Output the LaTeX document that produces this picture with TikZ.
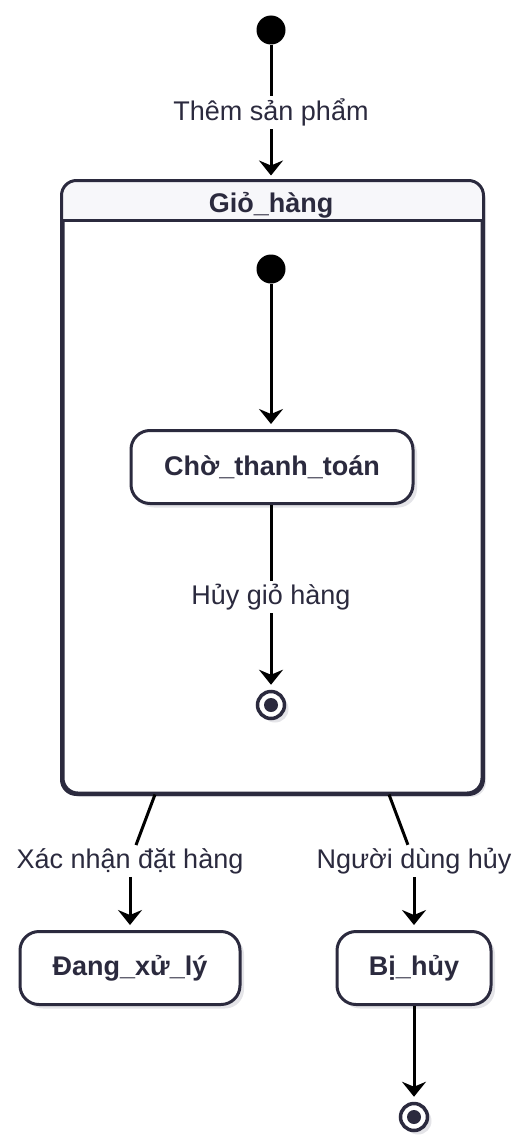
\documentclass[tikz,border=0pt]{standalone}
\usepackage{fontspec}
\setmainfont{Liberation Sans}
\usetikzlibrary{arrows.meta,shadows,calc}
\definecolor{ink}{HTML}{2B2A3E}
\definecolor{hdr}{HTML}{F7F7FA}
\definecolor{shd}{HTML}{E4E4E8}
\begin{document}
\begin{tikzpicture}[x=1pt,y=-1pt,
  shdw/.style={drop shadow={shadow xshift=4pt,shadow yshift=-4pt,fill=shd,opacity=1}},
  statebox/.style={draw=ink,line width=3pt,rounded corners=19pt,fill=white,
    text=ink,font=\fontsize{27}{32}\selectfont\bfseries,inner sep=0pt,
    minimum height=73pt,shdw},
  initst/.style={circle,fill=black,minimum size=29pt,inner sep=0pt},
  finalst/.style={circle,draw=ink,line width=3.5pt,fill=white,minimum size=27pt,inner sep=0pt,shdw,
    path picture={\fill[ink] (path picture bounding box.center) circle (7pt);}},
  lbl/.style={fill=white,text=ink,font=\fontsize{27}{32}\selectfont,inner sep=3pt},
  conn/.style={line width=3pt,black},
  edge/.style={conn,-{Stealth[length=15pt,width=24pt,inset=5pt]},shorten >=5pt}]
\useasboundingbox (0,0) rectangle (529,1148);

% composite state
\node[draw=ink,line width=3pt,rounded corners=15pt,fill=white,minimum width=419pt,
  minimum height=611pt,inner sep=0pt,shdw] (comp) at (272.5,487.5) {};
\begin{scope}
  \clip[rounded corners=15pt] (comp.north west) rectangle (comp.south east);
  \fill[hdr] (comp.north west) rectangle ([yshift=-40pt]comp.north east);
\end{scope}
\draw[ink,line width=3pt] ([yshift=-40pt]comp.north west) -- ([yshift=-40pt]comp.north east);
\draw[ink,line width=3pt,rounded corners=15pt] (comp.north west) rectangle (comp.south east);
\node[text=ink,font=\fontsize{27}{32}\selectfont\bfseries] (title) at (271,205) {Giỏ\_hàng};

% nodes
\node[initst] (init) at (271,30) {};
\node[initst] (init2) at (271,269) {};
\node[statebox,minimum width=282pt] (cho) at (272,467) {Chờ\_thanh\_toán};
\node[finalst] (fin1) at (271,705) {};
\node[statebox,minimum width=220pt] (dang) at (130,968) {Đang\_xử\_lý};
\node[statebox,minimum width=154pt] (bi) at (414,968) {Bị\_hủy};
\node[finalst] (fin2) at (414,1117) {};

% labels on bent connectors
\node[lbl] (l1) at (130,861) {Xác nhận đặt hàng};
\node[lbl] (l2) at (414,861) {Người dùng hủy};

% connectors
\draw[edge] (init) -- node[lbl] {Thêm sản phẩm} (comp.north -| init);
\draw[edge] (init2) -- (cho.north -| init2);
\draw[edge] (cho.south -| fin1) -- node[lbl] {Hủy giỏ hàng} (fin1);
\draw[conn] ([xshift=-117.5pt]comp.south) -- (l1);
\draw[edge] (l1) -- (dang);
\draw[conn] ([xshift=116.5pt]comp.south) -- (l2);
\draw[edge] (l2) -- (bi);
\draw[edge] (bi) -- (fin2);
\end{tikzpicture}
\end{document}
